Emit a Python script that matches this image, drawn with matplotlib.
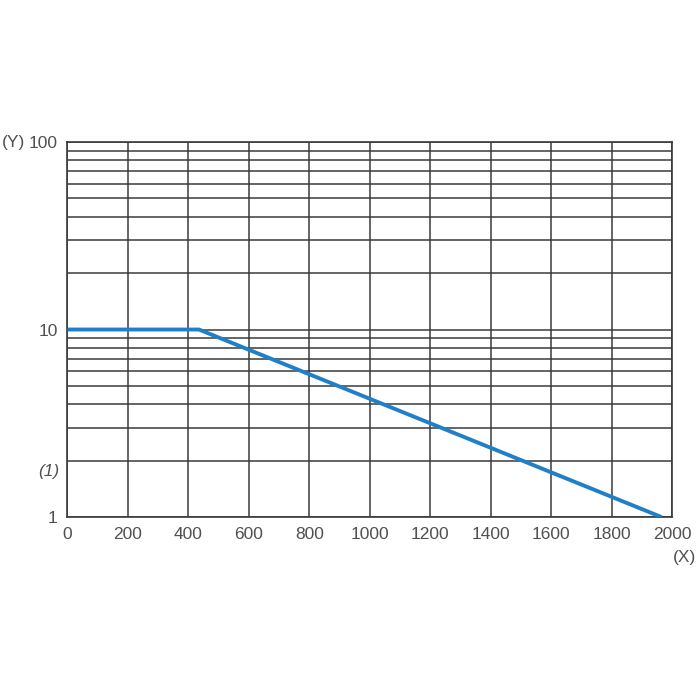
import matplotlib
matplotlib.use("Agg")
import matplotlib.pyplot as plt
from matplotlib.ticker import FixedLocator, NullFormatter

plt.rcParams['font.family'] = ['Liberation Sans', 'DejaVu Sans']

# curve data
x_vals = [0, 435, 1965]
y_vals = [10, 10, 1]

x_ticks = [0, 200, 400, 600, 800, 1000, 1200, 1400, 1600, 1800, 2000]
y_ticks = [1, 10, 100]
y_minor = [2, 3, 4, 5, 6, 7, 8, 9, 20, 30, 40, 50, 60, 70, 80, 90]

fig = plt.figure(figsize=(7, 7), dpi=100)
ax = fig.add_axes([0.0964, 0.2614, 0.8636, 0.5357])

ax.set_yscale('log')
ax.set_xlim(0, 2000)
ax.set_ylim(1, 100)

ax.xaxis.set_major_locator(FixedLocator(x_ticks))
ax.yaxis.set_major_locator(FixedLocator(y_ticks))
ax.yaxis.set_minor_locator(FixedLocator(y_minor))
ax.yaxis.set_minor_formatter(NullFormatter())
ax.set_yticklabels(['1', '10', '100'])

ax.grid(True, which='both', axis='y', color='#3a3a3a', linewidth=1.1)
ax.grid(True, which='major', axis='x', color='#3a3a3a', linewidth=1.1)
ax.tick_params(which='both', length=0, labelsize=12.5, colors='#505050')
ax.tick_params(axis='x', pad=7)
ax.tick_params(axis='y', pad=7)
for s in ax.spines.values():
    s.set_color('#3a3a3a')
    s.set_linewidth(1.2)

ax.plot(x_vals, y_vals, color='#1f80c8', linewidth=2.8, solid_capstyle='butt', zorder=5)

fig.text(0.003, 0.797, '(Y)', fontsize=12.5, color='#505050', va='center', ha='left')
fig.text(0.978, 0.203, '(X)', fontsize=12.5, color='#505050', va='center', ha='center')
ax.text(-0.014, 1.75, '(1)', transform=ax.get_yaxis_transform(), fontsize=12.5,
        style='italic', color='#505050', va='center', ha='right')

fig.savefig('out.png', dpi=100)
